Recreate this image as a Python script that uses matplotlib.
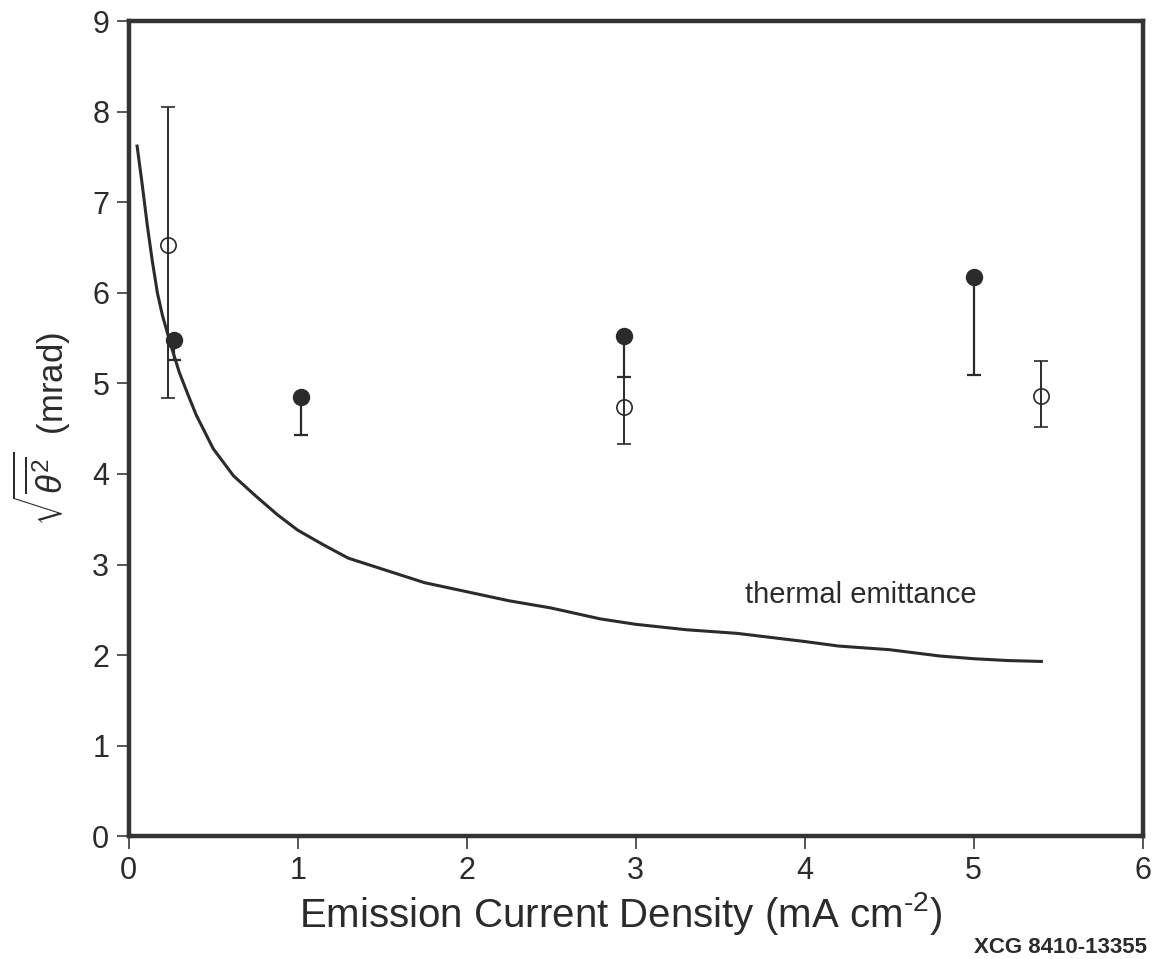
import matplotlib
matplotlib.use("Agg")
import matplotlib.pyplot as plt
import numpy as np

plt.rcParams['font.family'] = ['Liberation Sans', 'DejaVu Sans']
plt.rcParams['mathtext.fontset'] = 'custom'
plt.rcParams['mathtext.rm'] = 'Liberation Sans'
plt.rcParams['mathtext.it'] = 'Liberation Sans:italic'

# thermal emittance curve
curve_x = [0.05, 0.08, 0.11, 0.14, 0.17, 0.20, 0.25, 0.30, 0.35, 0.40, 0.50, 0.62, 0.75,
           0.88, 1.0, 1.15, 1.3, 1.5, 1.75, 2.0, 2.25, 2.5, 2.79, 3.0, 3.3, 3.6, 4.0,
           4.2, 4.5, 4.8, 5.0, 5.2, 5.4]
curve_y = [7.62, 7.20, 6.75, 6.35, 6.00, 5.75, 5.42, 5.12, 4.88, 4.65, 4.28, 3.98, 3.76,
           3.55, 3.38, 3.22, 3.07, 2.95, 2.80, 2.70, 2.60, 2.52, 2.40, 2.34, 2.28, 2.24, 2.15,
           2.10, 2.06, 1.99, 1.96, 1.94, 1.93]

# filled points: one-sided (lower) error bars
filled_x = [0.27, 1.02, 2.93, 5.00]
filled_y = [5.48, 4.85, 5.52, 6.18]
filled_low = [5.26, 4.43, 5.07, 5.09]

# open points: error bars low/high
open_x = [0.23, 2.93, 5.40]
open_y = [6.53, 4.74, 4.86]
open_low = [4.84, 4.33, 4.52]
open_high = [8.05, 5.07, 5.25]

ink = '#2b2b2b'

fig = plt.figure(figsize=(11.59, 9.59), dpi=100)
ax = fig.add_axes([0.111, 0.128, 0.875, 0.850])

ax.plot(curve_x, curve_y, color=ink, lw=2.2, zorder=2)

fy = np.array(filled_y)
ax.errorbar(filled_x, filled_y, yerr=[fy - np.array(filled_low), np.zeros_like(fy)],
            fmt='o', ms=11.5, color=ink, mfc=ink, mec=ink, ecolor=ink,
            elinewidth=1.6, capsize=5, capthick=1.6, zorder=4)

oy = np.array(open_y)
ax.errorbar(open_x, open_y, yerr=[oy - np.array(open_low), np.array(open_high) - oy],
            fmt='o', ms=11, mfc='none', mec=ink, mew=1.2, ecolor=ink,
            elinewidth=1.4, capsize=5, capthick=1.6, zorder=3)

ax.text(4.33, 2.66, 'thermal emittance', fontsize=21, color=ink, ha='center', va='center')

ax.set_xlim(0, 6)
ax.set_ylim(0, 9)
ax.set_xticks(range(0, 7))
ax.set_yticks(range(0, 10))
for s in ax.spines.values():
    s.set_linewidth(3.2)
    s.set_color('#333333')
ax.tick_params(direction='out', length=9, width=1.2, colors='#3a3a3a',
               labelsize=22, labelcolor=ink, pad=5)

ax.set_xlabel(r'Emission Current Density (mA cm$^{\text{-2}}$)', fontsize=29, color=ink)
ax.xaxis.set_label_coords(0.485, -0.066)
ax.set_ylabel(r'$\sqrt{\overline{\theta^2}}$  (mrad)', fontsize=25, color=ink, labelpad=14)

fig.text(0.99, 0.012, 'XCG 8410-13355', fontsize=16, fontweight='bold', color=ink,
         ha='right', va='center')

fig.savefig('out.png', dpi=100)
